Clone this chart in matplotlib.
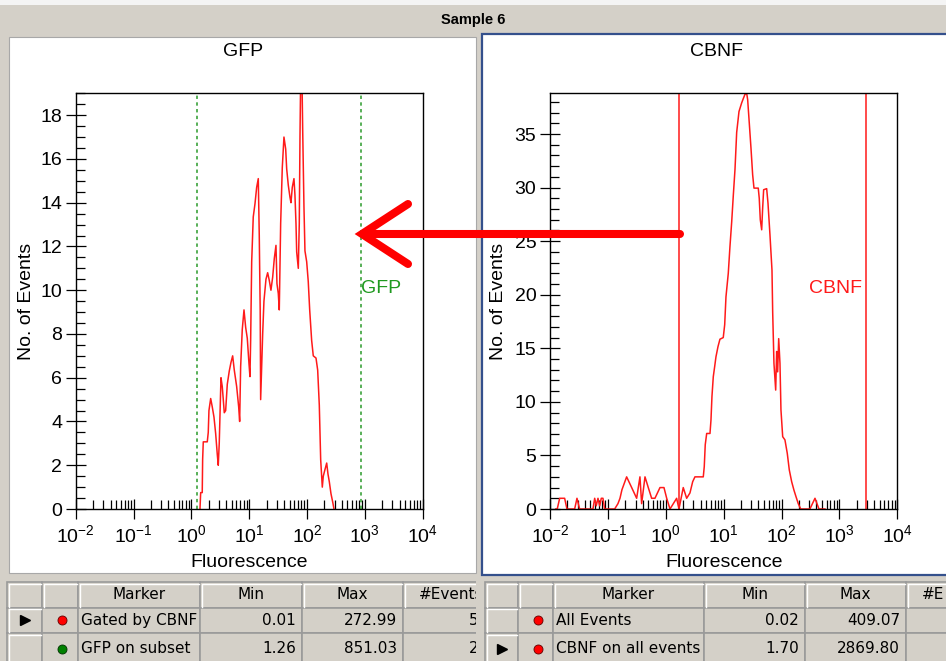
import numpy as np
import matplotlib
matplotlib.use('Agg')
import matplotlib.pyplot as plt
from matplotlib.patches import Rectangle
from matplotlib.ticker import (FixedLocator, FixedFormatter, LogLocator,
                               NullFormatter, MultipleLocator)

plt.rcParams['font.family'] = ['Liberation Sans', 'DejaVu Sans']
plt.rcParams['mathtext.fontset'] = 'custom'
plt.rcParams['mathtext.rm'] = 'Liberation Sans'
plt.rcParams['mathtext.it'] = 'Liberation Sans:italic'

# ---- data ----
# GFP histogram (gated by CBNF): log10(fluorescence), counts
gfp_log = [0.149, 0.161, 0.188, 0.195, 0.206, 0.275, 0.292, 0.304, 0.334, 0.361,
           0.391, 0.420, 0.448, 0.465, 0.482, 0.512, 0.534, 0.552, 0.569, 0.593,
           0.621, 0.655, 0.685, 0.714, 0.742, 0.783, 0.818, 0.835, 0.852, 0.880,
           0.910, 0.939, 0.967, 0.996, 1.013, 1.025, 1.043, 1.070, 1.100, 1.129,
           1.157, 1.174, 1.190, 1.198, 1.233, 1.255, 1.290, 1.319, 1.347, 1.376,
           1.406, 1.434, 1.463, 1.480, 1.503, 1.520, 1.544, 1.572, 1.601, 1.631,
           1.648, 1.676, 1.705, 1.722, 1.745, 1.774, 1.791, 1.809, 1.821, 1.849,
           1.866, 1.878, 1.900, 1.925, 1.947, 1.964, 1.994, 2.021, 2.046, 2.080,
           2.108, 2.155, 2.184, 2.212, 2.236, 2.264, 2.281, 2.310, 2.340, 2.362,
           2.385, 2.414, 2.443, 2.466]
gfp_cnt = [0, 0.75, 0.75, 2.27, 3.07, 3.07, 3.5, 4.5, 5.05, 4.67,
           4.2, 3.45, 2.5, 2.0, 3.0, 6.0, 5.6, 5.0, 4.4, 4.5,
           5.7, 6.3, 6.7, 7.0, 6.35, 5.6, 4.67, 4.0, 6.5, 8.2,
           9.1, 8.3, 7.8, 6.65, 6.05, 7.7, 11.3, 13.35, 13.95, 14.7,
           15.1, 12.5, 9.1, 5.0, 8.0, 9.5, 10.5, 10.8, 10.45, 10.0,
           10.6, 11.45, 12.05, 10.3, 9.85, 9.1, 13.05, 15.6, 17.0, 16.45,
           15.55, 14.8, 14.25, 14.0, 14.7, 15.1, 14.35, 13.05, 11.75, 11.0,
           13.05, 17.0, 22.0, 17.3, 13.8, 11.8, 11.3, 10.4, 9.1, 7.7,
           7.0, 6.9, 6.35, 4.75, 2.25, 1.0, 1.5, 1.8, 2.1, 1.6,
           1.25, 0.7, 0.33, 0]

# CBNF histogram (all events)
cbnf_log = [-1.90, -1.875, -1.833, -1.747, -1.707, -1.574, -1.534, -1.488, -1.258, -1.228,
            -1.201, -1.171, -1.142, -1.114, -1.085, -1.056, -0.883, -0.826, -0.791, -0.757,
            -0.676, -0.589, -0.503, -0.446, -0.417, -0.359, -0.302, -0.244, -0.187, -0.100,
            -0.031, 0.016, 0.073, 0.188, 0.228, 0.302, 0.361, 0.418, 0.465, 0.504,
            0.648, 0.665, 0.682, 0.707, 0.764, 0.781, 0.798, 0.821, 0.845, 0.867,
            0.902, 0.936, 0.993, 1.018, 1.040, 1.080, 1.109, 1.139, 1.166, 1.196,
            1.225, 1.265, 1.311, 1.339, 1.368, 1.398, 1.415, 1.443, 1.472, 1.501,
            1.524, 1.598, 1.615, 1.633, 1.657, 1.674, 1.691, 1.743, 1.766, 1.800,
            1.835, 1.847, 1.869, 1.899, 1.916, 1.933, 1.951, 1.973, 1.990, 2.020,
            2.059, 2.099, 2.134, 2.175, 2.215, 2.250, 2.289, 2.331, 2.49, 2.578,
            2.647, 2.75]
cbnf_cnt = [0, 0, 1, 1, 0, 0, 1, 0, 0, 1,
            0.3, 1, 0.3, 1, 1, 0, 0, 0.5, 1.0, 1.8,
            3, 2, 1, 3, 0.5, 3, 2, 1, 1, 2,
            2, 1, 0, 1, 0, 2, 1, 1.5, 2.55, 3.0,
            3.0, 3.95, 6.0, 7.05, 7.05, 8.3, 10.5, 12.35, 13.3, 14.2,
            15.15, 15.85, 16.0, 17.2, 19.8, 22.0, 24.5, 26.8, 29.2, 31.7,
            35.15, 37.1, 37.9, 38.3, 38.7, 38.8, 38.2, 36.0, 33.7, 31.2,
            29.95, 29.95, 29.0, 27.0, 26.06, 28.1, 29.8, 29.9, 28.55, 25.6,
            22.3, 18.4, 13.6, 11.1, 14.7, 12.8, 15.9, 13.6, 9.25, 6.75,
            6.45, 5.2, 3.65, 2.55, 1.75, 1.15, 0.5, 0, 0, 1,
            0, 0]

gfp_gate = [1.26, 851.03]
cbnf_gate = [1.70, 2869.80]

decades = [1e-2, 1e-1, 1e0, 1e1, 1e2, 1e3, 1e4]
dec_labels = [r'$\mathregular{10^{-2}}$', r'$\mathregular{10^{-1}}$', r'$\mathregular{10^{0}}$',
              r'$\mathregular{10^{1}}$', r'$\mathregular{10^{2}}$', r'$\mathregular{10^{3}}$',
              r'$\mathregular{10^{4}}$']

left_header = ['Marker', 'Min', 'Max', '#Events']
right_header = ['Marker', 'Min', 'Max', '#E']
left_markers = ['Gated by CBNF', 'GFP on subset']
left_min = ['0.01', '1.26']
left_max = ['272.99', '851.03']
left_events = ['5', '2']
left_dots = ['#ff0000', '#008000']
right_markers = ['All Events', 'CBNF on all events']
right_min = ['0.02', '1.70']
right_max = ['409.07', '2869.80']
right_events = ['', '']
right_dots = ['#ff0000', '#ff0000']

W, H = 946, 661
GRAY = '#d4d0c8'
fig = plt.figure(figsize=(W / 100, H / 100), dpi=100, facecolor=GRAY)

# background: panels, title, tables (pixel coordinates)
bg = fig.add_axes([0, 0, 1, 1], zorder=-1)
bg.set_xlim(0, W)
bg.set_ylim(H, 0)
bg.axis('off')

bg.add_patch(Rectangle((0, 0), W, 5, fc='#f4f4f4', ec='none'))
bg.text(473, 20, 'Sample 6', ha='center', va='center', fontsize=10.5,
        fontweight='bold', family=['Liberation Sans Narrow', 'Liberation Sans'])
bg.add_patch(Rectangle((9, 37), 467, 536, fc='white', ec='#a8a8a8', lw=0.8))
bg.add_patch(Rectangle((482, 34), 470, 541, fc='white', ec='#34508c', lw=1.6))
bg.text(243, 51, 'GFP', ha='center', va='center', fontsize=14)
bg.text(716, 51, 'CBNF', ha='center', va='center', fontsize=14)


def draw_table(cols, header, markers, mins, maxs, events, dots, current, clip_x):
    clip = Rectangle((0, 0), clip_x, H, transform=bg.transData)
    rows = [582, 607.5, 633, 664]
    arts = []
    for r in range(3):
        for c in range(6):
            x0, x1 = cols[c], cols[c + 1]
            y0, y1 = rows[r], rows[r + 1]
            arts.append(bg.add_patch(Rectangle((x0, y0), x1 - x0, y1 - y0,
                                               fc=GRAY, ec='#9a9a9a', lw=1.2)))
            if r == 0 or c == 0:
                arts += bg.plot([x0 + 1.5, x0 + 1.5, x1 - 1], [y1 - 1, y0 + 1.5, y0 + 1.5],
                                color='white', lw=1.0)
    yh = (rows[0] + rows[1]) / 2
    kw = dict(va='center', fontsize=11, family='DejaVu Sans')
    arts.append(bg.text((cols[2] + cols[3]) / 2, yh, header[0], ha='center', **kw))
    arts.append(bg.text((cols[3] + cols[4]) / 2, yh, header[1], ha='center', **kw))
    arts.append(bg.text((cols[4] + cols[5]) / 2, yh, header[2], ha='center', **kw))
    arts.append(bg.text(cols[5] + 16, yh, header[3], ha='left', **kw))
    for i in range(2):
        y = (rows[i + 1] + rows[i + 2]) / 2
        if i == current:
            arts += bg.plot((cols[0] + cols[1]) / 2, y, marker='>', ms=7.5, color='black')
        arts += bg.plot((cols[1] + cols[2]) / 2 + 2, y, marker='o', ms=6.5, mfc=dots[i],
                        mec='#600000' if dots[i] == '#ff0000' else '#003000', mew=0.6)
        arts.append(bg.text(cols[2] + 3, y, markers[i], ha='left', **kw))
        arts.append(bg.text(cols[4] - 6, y, mins[i], ha='right', **kw))
        arts.append(bg.text(cols[5] - 6, y, maxs[i], ha='right', **kw))
        arts.append(bg.text(cols[6] - 4, y, events[i], ha='right', **kw))
    for a in arts:
        a.set_clip_on(True)
        a.set_clip_path(clip)


draw_table([7, 42, 78, 200, 302, 403, 482], left_header, left_markers, left_min,
           left_max, left_events, left_dots, 0, 476)
draw_table([485, 518, 553, 704, 805, 906, 1000], right_header, right_markers, right_min,
           right_max, right_events, right_dots, 1, W)


def fpos(x0, y0, x1, y1):
    return [x0 / W, 1 - y1 / H, (x1 - x0) / W, (y1 - y0) / H]


def style(ax, ymax, ymajor, yminor, ylab_x):
    ax.set_xscale('log')
    ax.set_xlim(1e-2, 1e4)
    ax.set_ylim(0, ymax)
    ax.xaxis.set_major_locator(FixedLocator(decades))
    ax.xaxis.set_major_formatter(FixedFormatter(dec_labels))
    ax.xaxis.set_minor_locator(LogLocator(base=10, subs=np.arange(2, 10), numticks=20))
    ax.xaxis.set_minor_formatter(NullFormatter())
    ax.yaxis.set_major_locator(MultipleLocator(ymajor))
    ax.yaxis.set_minor_locator(MultipleLocator(yminor))
    ax.tick_params(which='major', direction='inout', length=14.5, width=0.9, labelsize=14)
    ax.tick_params(axis='y', which='major', pad=2.5)
    ax.tick_params(axis='x', which='major', pad=4)
    ax.tick_params(which='minor', direction='in', length=6.8, width=0.9)
    for s in ax.spines.values():
        s.set_linewidth(1.0)
    ax.set_xlabel('Fluorescence', fontsize=14)
    ax.set_ylabel('No. of Events', fontsize=14)
    ax.xaxis.set_label_coords(0.5, -0.108)
    ax.yaxis.set_label_coords(ylab_x, 0.5)


axL = fig.add_axes(fpos(75.7, 93.3, 422.7, 509))
style(axL, 19.0, 2, 0.5, -0.118)
for g in gfp_gate:
    axL.axvline(g, color='#2a9a2a', ls=(0, (2.2, 2.2)), lw=1.1)
axL.plot(10 ** np.array(gfp_log), gfp_cnt, color='#ff1a1a', lw=1.1)
axL.text(gfp_gate[1], 10.1, 'GFP', color='#1f991f', ha='left', va='center', fontsize=14)

axR = fig.add_axes(fpos(550, 93.3, 897.3, 509))
style(axR, 38.8, 5, 1, -0.124)
for g in cbnf_gate:
    axR.axvline(g, color='#ff1a1a', lw=1.1)
axR.plot(10 ** np.array(cbnf_log), cbnf_cnt, color='#ff1a1a', lw=1.1)
axR.annotate('CBNF', xy=(cbnf_gate[1], 20.6), xytext=(-3, 0), textcoords='offset points',
             color='#ff1a1a', ha='right', va='center', fontsize=14)

# big red arrow drawn over both panels
top = fig.add_axes([0, 0, 1, 1], zorder=10)
top.set_xlim(0, W)
top.set_ylim(H, 0)
top.axis('off')
top.patch.set_alpha(0)
top.plot([680, 364], [234, 234], color='#ff0000', lw=5.8, solid_capstyle='round')
top.plot([408, 362, 408], [204, 234, 264], color='#ff0000', lw=5.8,
         solid_capstyle='round', solid_joinstyle='miter')

fig.savefig('out.png', dpi=100, facecolor=GRAY)
